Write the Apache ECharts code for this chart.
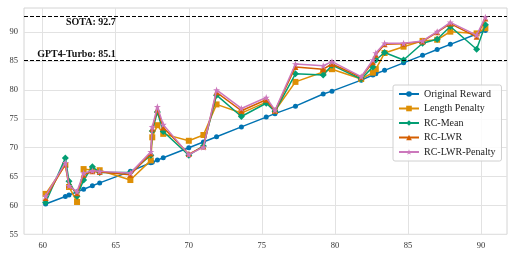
<!DOCTYPE html>
<html><head><meta charset="utf-8">
<script src="https://cdn.jsdelivr.net/npm/echarts@6/dist/echarts.min.js"></script>
<style>html,body{margin:0;padding:0;background:#fff}#c{width:516px;height:258px}</style>
</head><body><div id="c"></div>
<script>
const xValues =        [60.2, 61.55, 61.8, 62.35, 62.8, 63.4, 63.9, 66.0, 67.4, 67.5, 67.85, 68.25, 70.0, 71.0, 71.9, 73.6, 75.3, 75.9, 77.3, 79.2, 79.8, 81.8, 82.6, 82.8, 83.4, 84.7, 86.0, 87.0, 87.9, 89.7, 90.3];
const originalReward = [60.25,61.55, 61.8, 62.35, 62.8, 63.4, 63.9, 65.9, 67.4, 67.5, 67.85, 68.25, 70.0, 71.0, 71.9, 73.6, 75.3, 75.9, 77.2, 79.3, 79.8, 81.7, 82.6, 82.8, 83.4, 84.7, 86.0, 87.0, 87.9, 89.7, 90.3];
const lengthPenalty =  [62.0, 67.0, 63.2, 60.6, 66.3, 66.1, 66.1, 64.4, 67.8, 71.8, 73.9, 72.4, 71.2, 72.2, 77.5, 76.0, 77.9, 76.4, 81.4, 83.1, 83.6, 81.9, 83.0, 83.6, 86.4, 87.5, 88.5, 88.7, 90.1, 89.8, 90.7];
const rcMean =         [60.5, 68.2, 64.2, 61.6, 64.4, 66.7, 65.7, 65.7, 68.7, 72.9, 76.2, 72.8, 68.7, 70.3, 79.1, 75.4, 77.7, 76.3, 82.8, 82.6, 84.3, 81.9, 84.0, 85.2, 86.5, 85.2, 88.1, 88.8, 91.0, 87.05, 91.3];
const rcLwr =          [61.3, 67.2, 63.6, 62.1, 65.3, 65.9, 65.8, 65.3, 69.0, 73.3, 76.6, 73.5, 68.9, 70.2, 79.6, 76.4, 78.3, 76.4, 84.0, 83.6, 84.5, 82.2, 84.8, 86.1, 87.9, 88.0, 88.4, 90.0, 91.5, 89.2, 92.4];
const rcLwrPenalty =   [61.6, 67.4, 63.4, 62.4, 65.6, 66.0, 65.9, 65.6, 69.3, 73.6, 77.1, 74.0, 68.8, 70.1, 80.0, 76.8, 78.7, 76.5, 84.5, 84.2, 84.9, 82.3, 85.2, 86.4, 88.1, 88.1, 88.5, 90.1, 91.7, 89.5, 92.6];
const seriesNames = ['Original Reward', 'Length Penalty', 'RC-Mean', 'RC-LWR', 'RC-LWR-Penalty'];
const xTicks = [60, 65, 70, 75, 80, 85, 90];
const yTicks = [55, 60, 65, 70, 75, 80, 85, 90];
const refLines = [{name: 'SOTA', value: 92.7}, {name: 'GPT4-Turbo', value: 85.1}];
const refLabelX = 65;

const colors = ['#0173b2', '#de8f05', '#029e73', '#d55e00', '#cc78bc'];
const star = 'path://M0,-10 L2.4,-3.1 L9.5,-3.1 L3.8,1.2 L5.9,8.1 L0,4 L-5.9,8.1 L-3.8,1.2 L-9.5,-3.1 L-2.4,-3.1Z';
const symbols = ['circle', 'rect', 'diamond', 'triangle', star];
const sizes = [5, 6, 7, 6, 7];
const allValues = [originalReward, lengthPenalty, rcMean, rcLwr, rcLwrPenalty];
const serif = '"Liberation Serif", "DejaVu Serif", serif';

const series = allValues.map((vals, i) => ({
  name: seriesNames[i], type: 'line', z: 2 + i,
  data: xValues.map((x, k) => [x, vals[k]]),
  symbol: symbols[i], symbolSize: sizes[i], showSymbol: true,
  itemStyle: {color: colors[i]}, lineStyle: {color: colors[i], width: 1.5},
  emphasis: {disabled: true}, animation: false
}));
series[0].markLine = {
  silent: true, symbol: 'none', animation: false,
  lineStyle: {color: '#000', type: [4, 2], width: 1.2},
  label: {show: false},
  data: refLines.map(r => ({yAxis: r.value}))
};
series[0].markPoint = {
  silent: true, symbol: 'circle', symbolSize: 0, animation: false,
  data: refLines.map((r, i) => ({
    coord: [refLabelX, r.value],
    label: {show: true, formatter: r.name + ': ' + r.value, position: [0, 0],
      align: 'right', verticalAlign: 'middle', offset: i === 0 ? [0, 5.5] : [0, -6.5],
      fontFamily: serif, fontWeight: 'bold', fontSize: 10, color: '#111'}
  }))
};

const chart = echarts.init(document.getElementById('c'), null, {renderer: 'canvas'});
chart.setOption({
  backgroundColor: '#fff',
  animation: false,
  grid: {left: 24, right: 9, top: 8, bottom: 23.7, show: true, borderColor: '#d4d4d4', borderWidth: 1, backgroundColor: 'transparent'},
  xAxis: {type: 'value', min: 58.72, max: 91.78,
    axisLine: {show: false}, axisTick: {show: false, customValues: xTicks},
    axisLabel: {customValues: xTicks, fontFamily: serif, fontSize: 8.5, color: '#333', margin: 7},
    splitLine: {show: true, lineStyle: {color: '#e2e2e2', width: 1}}},
  yAxis: {type: 'value', min: 55, max: 94.2,
    axisLine: {show: false}, axisTick: {show: false, customValues: yTicks},
    axisLabel: {customValues: yTicks, fontFamily: serif, fontSize: 8.5, color: '#333', margin: 6},
    splitLine: {show: true, lineStyle: {color: '#e2e2e2', width: 1}}},
  legend: {
    data: seriesNames, orient: 'vertical', left: 393, top: 85,
    backgroundColor: 'rgba(255,255,255,0.85)', borderColor: '#d0d0d0', borderWidth: 1, borderRadius: 2,
    padding: [3, 6, 3, 5], itemGap: 2.5, itemWidth: 20, itemHeight: 7,
    textStyle: {fontFamily: serif, fontSize: 10, color: '#222', lineHeight: 12}
  },
  series: series
});
</script></body></html>
